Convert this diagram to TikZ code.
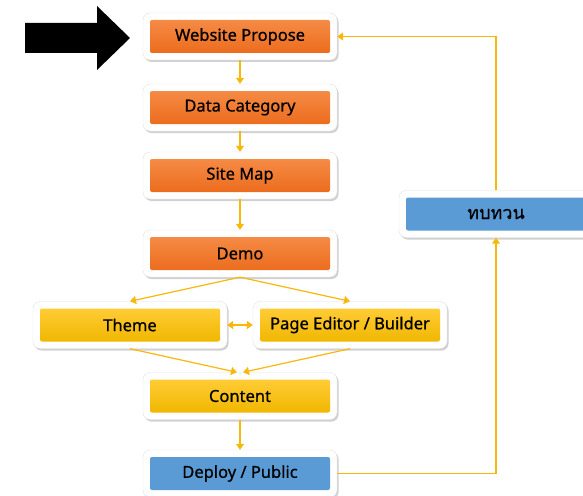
\documentclass[tikz,border=0pt]{standalone}
\usepackage{fontspec}
\setmainfont{Noto Sans}
\newfontfamily\lblfont[FakeBold=0.7]{Noto Sans}
\newfontfamily\thaifont[Script=Thai,FakeBold=0.5]{Loma}
\usetikzlibrary{shadows,arrows.meta}
\definecolor{orT}{HTML}{F58B45}
\definecolor{orB}{HTML}{EC6C1E}
\definecolor{yeT}{HTML}{FFCC36}
\definecolor{yeB}{HTML}{F0B700}
\definecolor{blu}{HTML}{5B9BD5}
\definecolor{lnk}{HTML}{F7B80A}
\tikzset{
  outerbox/.style={draw=black!12, fill=white, rounded corners=7pt, minimum width=194pt, minimum height=47pt,
    drop shadow={shadow xshift=1.5pt, shadow yshift=-2pt, opacity=0.3, fill=black!60}},
  innerbase/.style={rounded corners=2pt, minimum width=180pt, minimum height=33pt, font=\lblfont\fontsize{16.5}{18}\selectfont, text=black},
  orangebox/.style={innerbase, top color=orT, bottom color=orB},
  yellowbox/.style={innerbase, top color=yeT, bottom color=yeB},
  bluebox/.style={innerbase, fill=blu},
  link/.style={draw=lnk, line width=1.2pt, -{Triangle[length=6pt,width=8pt]}},
  dlink/.style={draw=lnk, line width=1.2pt, {Triangle[length=6pt,width=8pt]}-{Triangle[length=6pt,width=8pt]}},
}
\begin{document}
\begin{tikzpicture}[x=1pt,y=-1pt]
\useasboundingbox (0,0) rectangle (583,495);
% outer boxes
\node[outerbox] (wp) at (240,36.5) {};
\node[outerbox] (dc) at (240,107.5) {};
\node[outerbox] (sm) at (240,175.5) {};
\node[outerbox] (dm) at (240,253.5) {};
\node[outerbox] (th) at (130,325) {};
\node[outerbox] (pe) at (350,325) {};
\node[outerbox] (ct) at (240,396) {};
\node[outerbox] (dp) at (240,473.5) {};
\node[outerbox] (rv) at (496,214) {};
% inner boxes
\node[orangebox] (wpi) at (wp.center) {Website Propose};
\node[orangebox] (dci) at (dc.center) {Data Category};
\node[orangebox] (smi) at (sm.center) {Site Map};
\node[orangebox] (dmi) at (dm.center) {Demo};
\node[yellowbox] (thi) at (th.center) {Theme};
\node[yellowbox] (pei) at (pe.center) {Page Editor / Builder};
\node[yellowbox] (cti) at (ct.center) {Content};
\node[bluebox] (dpi) at (dp.center) {Deploy / Public};
\node[bluebox, font=\thaifont\fontsize{18}{20}\selectfont] (rvi) at (rv.center) {ทบทวน};
% big black arrow
\fill[black] (25,23) -- (97,23) -- (97,6) -- (130,38) -- (97,70) -- (97,53) -- (25,53) -- cycle;
% connectors
\draw[link] (wp.south) -- (dc.north);
\draw[link] (dc.south) -- (sm.north);
\draw[link] (sm.south) -- (dm.north);
\draw[link] (dm.south) -- (th.north);
\draw[link] (dm.south) -- (pe.north);
\draw[dlink] (th.east) -- (pe.west);
\draw[link] (th.south) -- ([xshift=-3pt]ct.north);
\draw[link] (pe.south) -- ([xshift=3pt]ct.north);
\draw[link] (ct.south) -- (dp.north);
\draw[link] (dp.east) -| (rv.south);
\draw[link] (rv.north) |- (wp.east);
\end{tikzpicture}
\end{document}
